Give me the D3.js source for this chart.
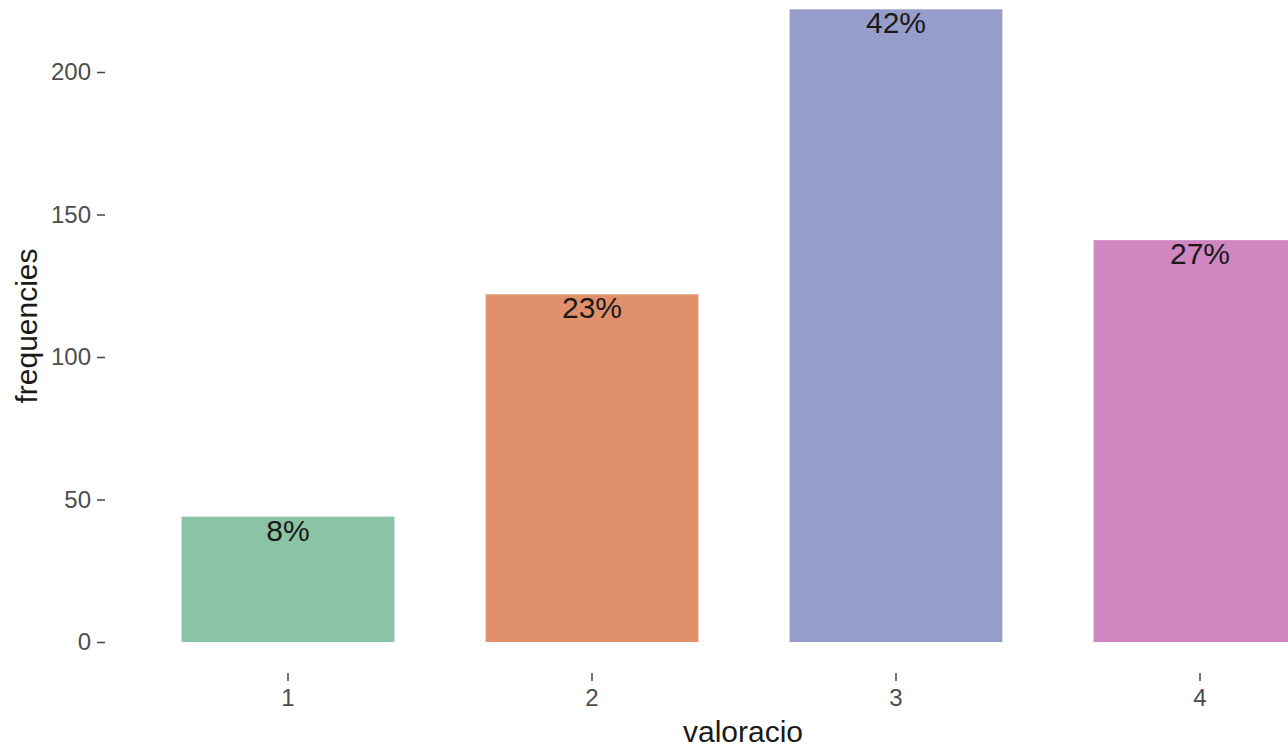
<!DOCTYPE html>
<html>
<head>
<meta charset="utf-8">
<script src="https://cdn.jsdelivr.net/npm/d3@7"></script>
<style>
  html, body { margin: 0; padding: 0; background: #fff; }
  svg { display: block; font-family: "Liberation Sans", Arial, sans-serif; }
</style>
</head>
<body>
<svg id="chart" width="1288" height="750"></svg>
<script>
const categories = ["1", "2", "3", "4"];
const frequencies = [44, 122, 222, 141];
const percentLabels = ["8%", "23%", "42%", "27%"];
const yTicks = [0, 50, 100, 150, 200];
const barColors = ["#8bc3a5", "#e0906a", "#979dca", "#d086c1"];

const svg = d3.select("#chart");

const panelLeft = 105.6, step = 304;
const x = d3.scaleBand()
  .domain(categories)
  .range([panelLeft, panelLeft + 4.2 * step])
  .paddingInner(0.3)
  .paddingOuter(0.25);

const y = d3.scaleLinear().domain([0, 200]).range([642, 72]);

// bars
svg.append("g").selectAll("rect")
  .data(categories)
  .join("rect")
  .attr("x", d => x(d))
  .attr("width", x.bandwidth())
  .attr("y", (d, i) => y(frequencies[i]))
  .attr("height", (d, i) => y(0) - y(frequencies[i]))
  .attr("fill", (d, i) => barColors[i]);

// bar labels
svg.append("g").selectAll("text")
  .data(categories)
  .join("text")
  .attr("x", d => x(d) + x.bandwidth() / 2)
  .attr("y", (d, i) => y(frequencies[i]) + 24)
  .attr("text-anchor", "middle")
  .attr("font-size", 30)
  .attr("fill", "#1a1a1a")
  .text((d, i) => percentLabels[i]);

// y axis
const yAxis = d3.axisLeft(y).tickValues(yTicks).tickSize(8).tickPadding(6);
const gy = svg.append("g").attr("transform", `translate(${panelLeft - 0.6},0)`).call(yAxis);
gy.select(".domain").remove();
gy.selectAll(".tick line").attr("stroke", "#444").attr("stroke-width", 1.5);
gy.selectAll(".tick text").attr("font-size", 24).attr("fill", "#4d4d4d")
  .attr("font-family", "Liberation Sans, Arial, sans-serif");

// x axis
const xAxis = d3.axisBottom(x).tickSize(8).tickPadding(8);
const gx = svg.append("g").attr("transform", `translate(0,673)`).call(xAxis);
gx.select(".domain").remove();
gx.selectAll(".tick line").attr("stroke", "#444").attr("stroke-width", 1.5);
gx.selectAll(".tick text").attr("font-size", 24).attr("fill", "#4d4d4d")
  .attr("font-family", "Liberation Sans, Arial, sans-serif");

// axis titles
svg.append("text")
  .attr("x", 743)
  .attr("y", 742)
  .attr("text-anchor", "middle")
  .attr("font-size", 30)
  .attr("fill", "#1a1a1a")
  .text("valoracio");

svg.append("text")
  .attr("transform", "translate(37,326) rotate(-90)")
  .attr("text-anchor", "middle")
  .attr("font-size", 30)
  .attr("fill", "#1a1a1a")
  .text("frequencies");
</script>
</body>
</html>
